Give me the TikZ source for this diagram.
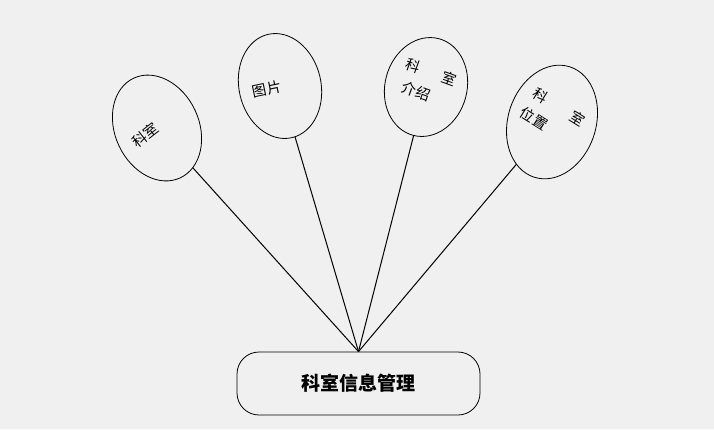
\documentclass[tikz,border=0pt]{standalone}
\usepackage{fontspec}
\newfontfamily\cjk{Noto Sans CJK SC}
\usetikzlibrary{intersections}
\definecolor{bg}{RGB}{240,240,240}
\begin{document}
\begin{tikzpicture}[x=1pt,y=-1pt,
  bubble/.style={draw,line width=0.8pt},
  lbl/.style={font=\cjk\fontsize{14.5}{23}\selectfont,align=left,inner sep=0pt},
  link/.style={line width=1pt}]
\fill[bg] (0,0) rectangle (714,429);
\useasboundingbox (0,0) rectangle (714,429);
% center box
\node[draw,rounded corners=22pt,minimum width=243pt,minimum height=63pt,line width=0.8pt,
  font=\cjk\bfseries\fontsize{19}{19}\selectfont] (box) at (358.5,383.5) {科室信息管理};
% ellipse centres
\coordinate (c1) at (157,128);
\coordinate (c2) at (280,86);
\coordinate (c3) at (426,87);
\coordinate (c4) at (552,122);
% bubbles
\draw[bubble,name path=pa,rotate around={25:(c1)}] (c1) ellipse (42 and 55);
\draw[bubble,name path=pb,rotate around={13:(c2)}] (c2) ellipse (41 and 53);
\draw[bubble,name path=pc,rotate around={-15:(c3)}] (c3) ellipse (41 and 50);
\draw[bubble,name path=pd,rotate around={-18:(c4)}] (c4) ellipse (44 and 58);
% labels
\node[lbl,rotate=38] (t1) at (145,135) {科室};
\node[lbl,rotate=12] (t2) at (267,89) {图片};
\node[lbl,rotate=-20] (t3) at (427,83) {科\hspace{24pt}室\\\hspace{5pt}介绍};
\node[lbl,rotate=-32] (t4) at (553,117) {科\hspace{30pt}室\\位置};
% connectors
\path[name path=la] (c1) -- (box.north);
\path[name path=lb] (c2) -- (box.north);
\path[name path=lc] (c3) -- (box.north);
\path[name path=ld] (c4) -- (box.north);
\path[name intersections={of=pa and la,by=b1}];
\path[name intersections={of=pb and lb,by=b2}];
\path[name intersections={of=pc and lc,by=b3}];
\path[name intersections={of=pd and ld,by=b4}];
\draw[link] (b1) -- (box.north);
\draw[link] (b2) -- (box.north);
\draw[link] (b3) -- (box.north);
\draw[link] (b4) -- (box.north);
\end{tikzpicture}
\end{document}
